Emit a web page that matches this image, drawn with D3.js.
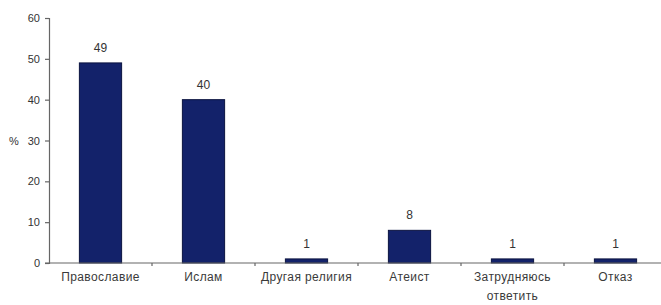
<!DOCTYPE html>
<html>
<head>
<meta charset="utf-8">
<script src="https://cdn.jsdelivr.net/npm/d3@7"></script>
<style>
  body { margin: 0; background: #fff; }
  text { font-family: "Liberation Sans", Arial, sans-serif; fill: #333; }
</style>
</head>
<body>
<div id="chart"></div>
<script>
// Data
const categories = ['Православие', 'Ислам', 'Другая религия', 'Атеист', 'Затрудняюсь ответить', 'Отказ'];
const values = [49, 40, 1, 8, 1, 1];
const yTicks = [0, 10, 20, 30, 40, 50, 60];

const width = 661, height = 305;
const margin = { left: 49, top: 18, bottom: 42 };

const svg = d3.select('#chart').append('svg')
    .attr('width', width)
    .attr('height', height);

// Scales
const x = d3.scaleBand().domain(categories).range([margin.left, margin.left + 6 * 103]).paddingInner(0.59).paddingOuter(0.295);
const xb = d3.scaleBand().domain(categories).range([margin.left, margin.left + 6 * 103]);
const y = d3.scaleLinear().domain([0, 60]).range([263, margin.top]);

// Bars
svg.selectAll('rect.bar').data(values).enter().append('rect')
    .attr('class', 'bar')
    .attr('x', (d, i) => x(categories[i]))
    .attr('y', d => y(d))
    .attr('width', x.bandwidth())
    .attr('height', d => y(0) - y(d))
    .attr('fill', '#13226a')
    .attr('stroke', '#0b1440')
    .attr('stroke-width', 1);

// Value labels
svg.selectAll('text.val').data(values).enter().append('text')
    .attr('class', 'val')
    .attr('x', (d, i) => x(categories[i]) + x.bandwidth() / 2)
    .attr('y', d => y(d) - 11)
    .attr('text-anchor', 'middle')
    .style('font-size', '12px')
    .text(d => d);

// Y axis
const yAxisG = svg.append('g')
    .attr('transform', 'translate(' + margin.left + ',0)')
    .call(d3.axisLeft(y).tickValues(yTicks).tickSize(4).tickSizeOuter(4).tickPadding(5));
yAxisG.selectAll('text').style('font-size', '11px').style('fill', '#333');
yAxisG.selectAll('line, path').attr('stroke', '#666').attr('stroke-width', 1.2);

// X axis (ticks at band boundaries)
const xAxisG = svg.append('g');
xAxisG.append('line')
    .attr('x1', margin.left - 4).attr('x2', margin.left + 6 * 103)
    .attr('y1', y(0)).attr('y2', y(0))
    .attr('stroke', '#666').attr('stroke-width', 1.2);
xAxisG.selectAll('line.tick').data(categories.slice(1)).enter().append('line')
    .attr('class', 'tick')
    .attr('x1', d => xb(d)).attr('x2', d => xb(d))
    .attr('y1', y(0)).attr('y2', y(0) + 3)
    .attr('stroke', '#666').attr('stroke-width', 1.2);

// Category labels (wrapped)
const labels = svg.selectAll('text.cat').data(categories).enter().append('text')
    .attr('class', 'cat')
    .attr('text-anchor', 'middle')
    .attr('y', 281)
    .style('font-size', '12px')
    .style('letter-spacing', '0.4px')
    .style('fill', '#3a3a3a');
labels.each(function(d) {
    const el = d3.select(this);
    const cx = xb(d) + xb.bandwidth() / 2;
    const words = d === 'Затрудняюсь ответить' ? ['Затрудняюсь', 'ответить'] : [d];
    words.forEach((w, i) => {
        el.append('tspan').attr('x', cx).attr('dy', i === 0 ? 0 : 19).text(w);
    });
});

// Y axis title
svg.append('text')
    .attr('x', 14)
    .attr('y', y(30) + 4)
    .attr('text-anchor', 'middle')
    .style('font-size', '11px')
    .text('%');
</script>
</body>
</html>
